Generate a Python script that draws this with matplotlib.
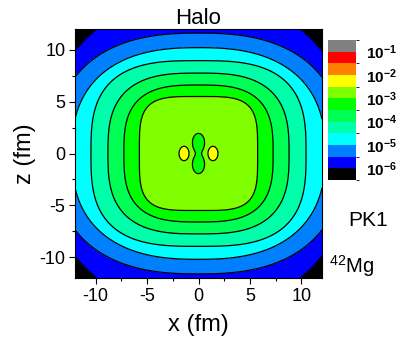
import numpy as np
import matplotlib
matplotlib.use('Agg')
import matplotlib as mpl
from matplotlib import pyplot as plt
from matplotlib.colors import ListedColormap, BoundaryNorm

plt.rcParams['font.family'] = ['Liberation Sans', 'DejaVu Sans']
plt.rcParams['axes.unicode_minus'] = False
plt.rcParams['mathtext.fontset'] = 'custom'
plt.rcParams['mathtext.rm'] = 'Liberation Sans'
plt.rcParams['mathtext.bf'] = 'Liberation Sans:bold'

# log10 density of each contour line, and the shape of that line
levels_log = [-3.0, -3.5, -4.0, -4.5, -5.0, -5.5, -6.0]
half_x = [5.75, 7.25, 8.8, 10.45, 12.3, 14.0, 15.55]    # where the line crosses the x axis (fm)
half_z = [5.5, 6.6, 7.75, 8.95, 10.2, 11.6, 15.55]      # where the line crosses the z axis (fm)
squareness = [4.0, 3.0, 2.9, 3.0, 2.5, 2.5, 2.0]        # superellipse power of the line

# yellow spots (above 10^-2.5) and green pinch in the middle (below 10^-3)
spot_x = [-1.4, 1.4]
spot_z = [0.0, 0.0]
spot_size = [0.59, 0.83]
pinch_x = [0.0, 0.0]
pinch_z = [-1.0, 1.0]
pinch_size = [0.467, 0.73]

# colour bands, low to high
band_colors = ['#000000', '#0000ff', '#0080ff', '#00ffff', '#00ffaa', '#00ff55',
               '#00ff00', '#80ff00', '#ffff00', '#ff8000', '#ff0000', '#808080']
bounds = [-7, -6, -5.5, -5, -4.5, -4, -3.5, -3, -2.5, -2, -1.5, -1, 0]
cbar_ticks = [-6, -5, -4, -3, -2, -1]

xs = np.linspace(-12, 12, 601)
X, Z = np.meshgrid(xs, xs)
g = [(np.abs(X / a) ** n + np.abs(Z / b) ** n) ** (1.0 / n) - 1
     for a, b, n in zip(half_x, half_z, squareness)]

val = np.zeros(X.shape)
m = g[0] <= 0
val[m] = levels_log[0] + 0.25 * np.clip(-5 * g[0][m], 0, 1)
for k in range(len(levels_log) - 1):
    m = (g[k] > 0) & (g[k + 1] <= 0)
    val[m] = levels_log[k] + (levels_log[k + 1] - levels_log[k]) * g[k][m] / (g[k][m] - g[k + 1][m])
m = g[-1] > 0
val[m] = levels_log[-1] - 0.5 * np.clip(5 * g[-1][m], 0, 1)

for xc, zc in zip(spot_x, spot_z):
    val += 0.5 * np.exp(-((X - xc) / spot_size[0]) ** 2 - ((Z - zc) / spot_size[1]) ** 2)
for xc, zc in zip(pinch_x, pinch_z):
    val -= 1.3 * np.exp(-((X - xc) / pinch_size[0]) ** 2 - ((Z - zc) / pinch_size[1]) ** 2)
near = (np.abs(X) < 3) & (np.abs(Z) < 3)
val[near] = np.maximum(val[near], -3.3)

fig = plt.figure(figsize=(3.96, 3.40), dpi=100)
ax = fig.add_axes([75 / 396, 62 / 340, 247 / 396, 249 / 340])
ax.contourf(X, Z, val, levels=bounds, colors=band_colors)
ax.contour(X, Z, val, levels=bounds[1:-3], colors='k', linewidths=0.9,
           linestyles='solid')
ax.set_xlim(-12, 12)
ax.set_ylim(-12, 12)
ax.set_xticks([-10, -5, 0, 5, 10])
ax.set_yticks([-10, -5, 0, 5, 10])
ax.set_xticks([-7.5, -2.5, 2.5, 7.5], minor=True)
ax.set_yticks([-7.5, -2.5, 2.5, 7.5], minor=True)
ax.tick_params(which='major', length=4, width=0.8, labelsize=13, pad=3)
ax.tick_params(which='minor', length=2.5, width=0.8)
ax.set_xlabel('x (fm)', fontsize=17, labelpad=7)
ax.set_ylabel('z (fm)', fontsize=17, labelpad=2)
ax.set_title('Halo', fontsize=16, pad=3)

cax = fig.add_axes([328 / 396, 160 / 340, 28 / 396, 140 / 340])
cmap = ListedColormap(band_colors)
norm = BoundaryNorm([-6.5] + bounds[1:-1] + [-0.5], cmap.N)
cb = mpl.colorbar.ColorbarBase(cax, cmap=cmap, norm=norm, ticks=cbar_ticks)
cb.outline.set_visible(False)
cb.set_ticklabels([r'$\mathbf{10^{%d}}$' % t for t in cbar_ticks])
cax.tick_params(length=0, pad=7, labelsize=11)

fig.text(368 / 396, 1 - 221 / 340, 'PK1', fontsize=15, ha='center', va='center')
fig.text(352 / 396, 1 - 266 / 340, r'$^{42}$Mg', fontsize=14.5, ha='center', va='center')

fig.savefig('out.png', dpi=100)
